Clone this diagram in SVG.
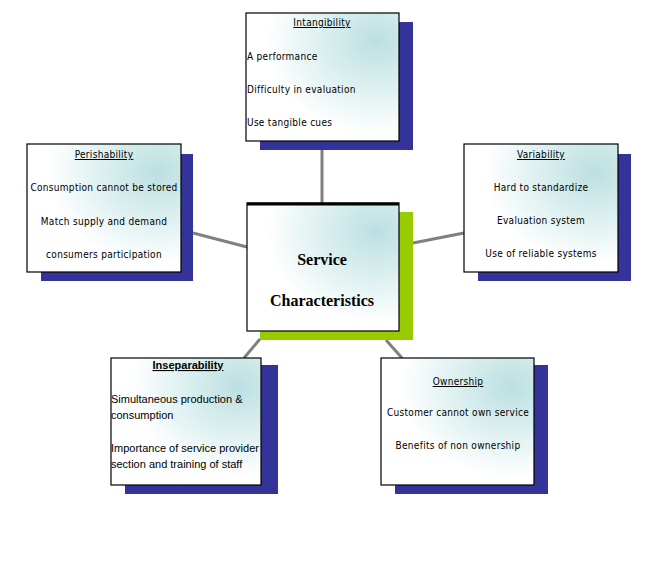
<svg xmlns="http://www.w3.org/2000/svg" width="646" height="561" viewBox="0 0 646 561">
<defs>
<radialGradient id="g" cx="0.85" cy="0.22" r="0.72" fx="0.85" fy="0.22">
<stop offset="0" stop-color="#bcdfe1"/>
<stop offset="0.45" stop-color="#d9eeee"/>
<stop offset="1" stop-color="#ffffff"/>
</radialGradient>
<style>
.sh{fill:#333399}
.shg{fill:#99cc00}
.bx{fill:url(#g);stroke:#000;stroke-width:1.2}
.c{stroke:#808080;stroke-width:3;fill:none}
.t{font-family:"DejaVu Sans Condensed","Liberation Sans",sans-serif;font-size:10px;letter-spacing:0.3px;fill:#000}
.m{text-anchor:middle}
.u{text-decoration:underline}
.s{font-family:"Liberation Sans",Arial,sans-serif;font-size:11px;fill:#000}
.h{font-family:"Liberation Serif","Times New Roman",serif;font-weight:bold;font-size:16px;text-anchor:middle;fill:#000}
</style>
</defs>
<rect width="646" height="561" fill="#fff"/>
<g id="connectors">
<line class="c" x1="322" y1="150" x2="322" y2="203"/>
<line class="c" x1="193" y1="233" x2="247" y2="247"/>
<line class="c" x1="413" y1="243" x2="464" y2="233"/>
<line class="c" x1="260" y1="339" x2="244" y2="358"/>
<line class="c" x1="386" y1="340" x2="402" y2="358"/>
</g>
<g id="intangibility">
<rect class="sh" x="260" y="22" width="153" height="128"/>
<rect class="bx" x="246" y="13" width="153" height="128"/>
<text class="t m u" x="322" y="26">Intangibility</text>
<text class="t" x="247" y="60">A performance</text>
<text class="t" x="247" y="93">Difficulty in evaluation</text>
<text class="t" x="247" y="126">Use tangible cues</text>
</g>
<g id="perishability">
<rect class="sh" x="41" y="154" width="152" height="127"/>
<rect class="bx" x="27" y="144" width="154" height="128"/>
<text class="t m u" x="104" y="158">Perishability</text>
<text class="t m" x="104" y="191">Consumption cannot be stored</text>
<text class="t m" x="104" y="225">Match supply and demand</text>
<text class="t m" x="104" y="258">consumers  participation</text>
</g>
<g id="variability">
<rect class="sh" x="478" y="154" width="153" height="127"/>
<rect class="bx" x="464" y="144" width="154" height="128"/>
<text class="t m u" x="541" y="158">Variability</text>
<text class="t m" x="541" y="191">Hard to standardize</text>
<text class="t m" x="541" y="224">Evaluation system</text>
<text class="t m" x="541" y="257">Use of reliable systems</text>
</g>
<g id="center">
<rect class="shg" x="260" y="212" width="153" height="128"/>
<rect class="bx" x="247" y="203" width="152" height="128"/>
<line x1="247" y1="204" x2="399" y2="204" stroke="#000" stroke-width="3"/>
<text class="h" x="322" y="265">Service</text>
<text class="h" x="322" y="306">Characteristics</text>
</g>
<g id="inseparability">
<rect class="sh" x="125" y="365" width="153" height="129"/>
<rect class="bx" x="111" y="358" width="150" height="127"/>
<text class="s m u" x="188" y="369" font-weight="bold">Inseparability</text>
<text class="s" x="111" y="403">Simultaneous  production &amp;</text>
<text class="s" x="111" y="419">consumption</text>
<text class="s" x="111" y="452">Importance of service provider</text>
<text class="s" x="111" y="468">section and training of staff</text>
</g>
<g id="ownership">
<rect class="sh" x="395" y="365" width="153" height="129"/>
<rect class="bx" x="381" y="358" width="153" height="127"/>
<text class="t m u" x="458" y="385">Ownership</text>
<text class="t m" x="458" y="416">Customer cannot own service</text>
<text class="t m" x="458" y="449">Benefits of non ownership</text>
</g>
</svg>
